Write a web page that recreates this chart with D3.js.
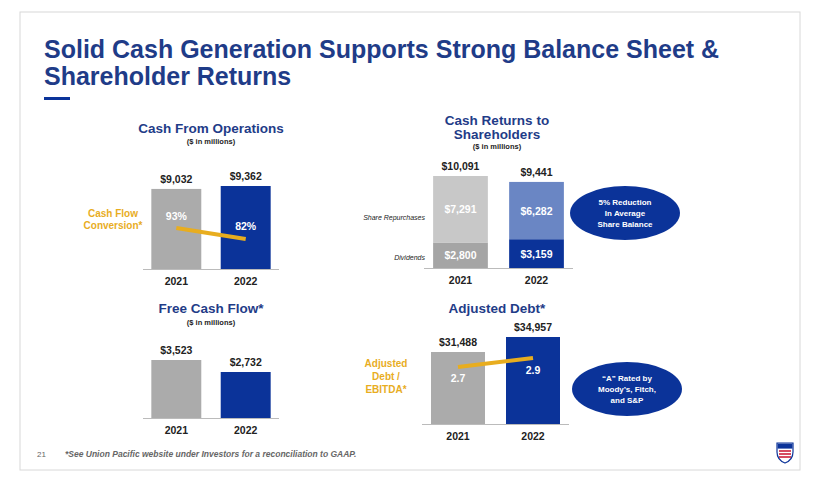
<!DOCTYPE html>
<html><head><meta charset="utf-8">
<script src="https://cdn.jsdelivr.net/npm/d3@7"></script>
<style>body{margin:0;background:#fff}text{font-family:Arial,"Liberation Sans",sans-serif}</style>
</head><body><svg id="c" width="816" height="483"></svg>
<script>
const years = ["2021", "2022"];
const cashOps = [9032, 9362];
const conversion = [93, 82];
const repurchases = [7291, 6282];
const dividends = [2800, 3159];
const returnsTotal = [10091, 9441];
const freeCash = [3523, 2732];
const adjDebt = [31488, 34957];
const debtEbitda = [2.7, 2.9];

const svg = d3.select("#c");
const NAVY = "#0b3399", GOLD = "#e8ad1f", TITLE = "#1f3c88";
const fmt = d => "$" + d3.format(",")(d);

svg.append("rect").attr("x", 20).attr("y", 12).attr("width", 780).attr("height", 458)
  .attr("fill", "none").attr("stroke", "#d8d8d8");

svg.append("text").attr("x", 44).attr("y", 58).attr("font-size", 25).attr("font-weight", "bold")
  .attr("fill", TITLE).text("Solid Cash Generation Supports Strong Balance Sheet &");
svg.append("text").attr("x", 44).attr("y", 85).attr("font-size", 25).attr("font-weight", "bold")
  .attr("fill", TITLE).text("Shareholder Returns");
svg.append("rect").attr("x", 44).attr("y", 97).attr("width", 26).attr("height", 3).attr("fill", NAVY);

function title(cx, ys, lines, sub) {
  lines.forEach((l, i) => svg.append("text").attr("x", cx).attr("y", ys[i]).attr("text-anchor", "middle")
    .attr("font-size", 13.5).attr("font-weight", "bold").attr("fill", TITLE).text(l));
  if (sub) svg.append("text").attr("x", cx).attr("y", sub).attr("text-anchor", "middle")
    .attr("font-size", 7.5).attr("font-weight", "bold").attr("fill", "#222").text("($ in millions)");
}

function panel(o) {
  const x = d3.scaleBand().domain(years).range([o.x0, o.x1]).paddingInner(0.28).paddingOuter(0.12);
  const y = d3.scaleLinear().domain(o.domain).range([o.base, o.top]);
  svg.append("line").attr("x1", o.x0).attr("x2", o.x1).attr("y1", o.base + 0.5).attr("y2", o.base + 0.5)
    .attr("stroke", "#bbb");
  svg.selectAll(null).data(years).join("text").attr("x", d => x(d) + x.bandwidth() / 2)
    .attr("y", o.base + 16).attr("text-anchor", "middle").attr("font-size", 10.5).attr("font-weight", "bold")
    .attr("fill", "#222").text(d => d);
  return {x, y};
}

function simpleBars(s, vals, colors) {
  svg.selectAll(null).data(vals).join("rect").attr("x", (d, i) => s.x(years[i]))
    .attr("width", s.x.bandwidth()).attr("y", d => s.y(d)).attr("height", d => s.y.range()[0] - s.y(d))
    .attr("fill", (d, i) => colors[i]);
  svg.selectAll(null).data(vals).join("text").attr("x", (d, i) => s.x(years[i]) + s.x.bandwidth() / 2)
    .attr("y", d => s.y(d) - 6).attr("text-anchor", "middle").attr("font-size", 10.5).attr("font-weight", "bold")
    .attr("fill", "#222").text(fmt);
}

function goldLine(s, vals, yScale, labels, labelDy) {
  const pts = vals.map((v, i) => [s.x(years[i]) + s.x.bandwidth() / 2, yScale(v)]);
  svg.append("path").attr("d", d3.line()(pts)).attr("stroke", GOLD).attr("stroke-width", 4).attr("fill", "none");
  svg.selectAll(null).data(vals).join("text").attr("x", (d, i) => pts[i][0]).attr("y", (d, i) => pts[i][1] + labelDy[i])
    .attr("text-anchor", "middle").attr("font-size", 10.5).attr("font-weight", "bold").attr("fill", "#fff")
    .text(labels);
}

function sideLabel(x, ys, lines, color) {
  lines.forEach((l, i) => svg.append("text").attr("x", x).attr("y", ys[i]).attr("text-anchor", "middle")
    .attr("font-size", 10).attr("font-weight", "bold").attr("fill", color).text(l));
}

function ellipse(cx, cy, lines) {
  svg.append("ellipse").attr("cx", cx).attr("cy", cy).attr("rx", 55).attr("ry", 27).attr("fill", NAVY);
  lines.forEach((l, i) => svg.append("text").attr("x", cx).attr("y", cy - (lines.length - 1) * 5.5 + i * 11 + 3)
    .attr("text-anchor", "middle").attr("font-size", 8).attr("font-weight", "bold").attr("fill", "#fff").text(l));
}

// Cash From Operations
title(211, [133], ["Cash From Operations"], 144);
const p1 = panel({x0: 143, x1: 279, base: 269, top: 186, domain: [0, 9362]});
simpleBars(p1, cashOps, ["#ababab", NAVY]);
goldLine(p1, conversion, d3.scaleLinear().domain([93, 82]).range([228, 239]), d => d + "%", [-8, -9]);
sideLabel(113, [217, 229], ["Cash Flow", "Conversion*"], GOLD);

// Cash Returns
title(497, [125, 139], ["Cash Returns to", "Shareholders"], 149);
const p2 = panel({x0: 424, x1: 573, base: 268, top: 176, domain: [0, 10091]});
const stackCols = {rep: ["#c8c8c8", "#6a86c4"], div: ["#a5a5a5", NAVY]};
const segs = years.map((yr, i) => ({yr, i, div: dividends[i], rep: repurchases[i]}));
svg.selectAll(null).data(segs).join("rect").attr("x", d => p2.x(d.yr)).attr("width", p2.x.bandwidth())
  .attr("y", d => p2.y(d.div)).attr("height", d => p2.y(0) - p2.y(d.div)).attr("fill", d => stackCols.div[d.i]);
svg.selectAll(null).data(segs).join("rect").attr("x", d => p2.x(d.yr)).attr("width", p2.x.bandwidth())
  .attr("y", d => p2.y(returnsTotal[d.i])).attr("height", d => p2.y(d.div) - p2.y(returnsTotal[d.i]))
  .attr("fill", d => stackCols.rep[d.i]);
svg.selectAll(null).data(segs).join("text").attr("x", d => p2.x(d.yr) + p2.x.bandwidth() / 2)
  .attr("y", d => (p2.y(0) + p2.y(d.div)) / 2 + 4).attr("text-anchor", "middle").attr("font-size", 10.5)
  .attr("font-weight", "bold").attr("fill", "#fff").text(d => fmt(d.div));
svg.selectAll(null).data(segs).join("text").attr("x", d => p2.x(d.yr) + p2.x.bandwidth() / 2)
  .attr("y", d => (p2.y(d.div) + p2.y(returnsTotal[d.i])) / 2 + 4).attr("text-anchor", "middle").attr("font-size", 10.5)
  .attr("font-weight", "bold").attr("fill", "#fff").text(d => fmt(d.rep));
svg.selectAll(null).data(returnsTotal).join("text").attr("x", (d, i) => p2.x(years[i]) + p2.x.bandwidth() / 2)
  .attr("y", d => p2.y(d) - 6).attr("text-anchor", "middle").attr("font-size", 10.5).attr("font-weight", "bold")
  .attr("fill", "#222").text(fmt);
[["Share Repurchases", 220], ["Dividends", 260]].forEach(([t, yy]) =>
  svg.append("text").attr("x", 425).attr("y", yy).attr("text-anchor", "end").attr("font-size", 7)
    .attr("font-style", "italic").attr("fill", "#222").text(t));
ellipse(625, 213, ["5% Reduction", "In Average", "Share Balance"]);

// Free Cash Flow
title(211, [313], ["Free Cash Flow*"], 325);
const p3 = panel({x0: 143, x1: 279, base: 418, top: 360, domain: [-300, 3523]});
simpleBars(p3, freeCash, ["#ababab", NAVY]);

// Adjusted Debt
title(497, [313], ["Adjusted Debt*"], null);
const p4 = panel({x0: 422, x1: 569, base: 424, top: 337, domain: [14837, 34957]});
simpleBars(p4, adjDebt, ["#ababab", NAVY]);
goldLine(p4, debtEbitda, d3.scaleLinear().domain([2.7, 2.9]).range([367, 358]), d => d.toFixed(1), [15, 16]);
sideLabel(386, [367, 380, 393], ["Adjusted", "Debt /", "EBITDA*"], GOLD);
ellipse(627, 389, ["\u201CA\u201D Rated by", "Moody\u2019s, Fitch,", "and S&P"]);

// footer
svg.append("text").attr("x", 37).attr("y", 457).attr("font-size", 8).attr("fill", "#666").text("21");
svg.append("text").attr("x", 65).attr("y", 457).attr("font-size", 8.5).attr("font-style", "italic")
  .attr("font-weight", "bold").attr("fill", "#666")
  .text("*See Union Pacific website under Investors for a reconciliation to GAAP.");
// logo shield
const g = svg.append("g").attr("transform", "translate(777,441)");
g.append("path").attr("d", "M0,2 L16,2 L16,11 Q16,19 8,22 Q0,19 0,11 Z").attr("fill", "#fff").attr("stroke", NAVY).attr("stroke-width", 1.2);
g.append("rect").attr("x", 0.6).attr("y", 2.6).attr("width", 14.8).attr("height", 5).attr("fill", NAVY);
[10, 13, 16].forEach(yy => g.append("line").attr("x1", 2).attr("x2", 14).attr("y1", yy).attr("y2", yy)
  .attr("stroke", "#c8102e").attr("stroke-width", 1.5));
</script></body></html>
